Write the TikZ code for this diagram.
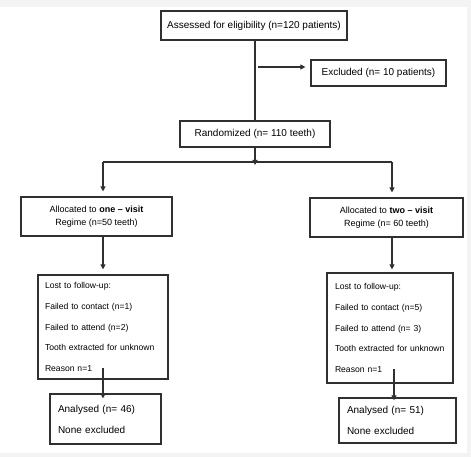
\documentclass[tikz,border=0pt]{standalone}
\usepackage{fontspec}
\setmainfont{Liberation Sans}
\usetikzlibrary{arrows.meta}
\definecolor{bggray}{HTML}{F3F3F3}
\definecolor{linegray}{HTML}{303030}
\begin{document}
\begin{tikzpicture}[x=1pt,y=-1pt,
  box/.style={draw=linegray, line width=1.2pt, inner sep=0pt, align=center, font=\fontsize{10}{12}\selectfont},
  allocbox/.style={box, font=\fontsize{9}{13}\selectfont},
  lostbox/.style={draw=linegray, line width=1.2pt, inner ysep=0pt, align=left, font=\fontsize{8.6}{20.6}\selectfont},
  anbox/.style={draw=linegray, line width=1.2pt, inner ysep=0pt, align=left, font=\fontsize{10}{21}\selectfont},
  conn/.style={draw=linegray, line width=1.1pt},
  arr/.style={conn, -{Triangle[length=5pt,width=5pt]}}
]
\useasboundingbox (0,0) rectangle (471,457);
\fill[bggray] (0,0) rectangle (471,457);
\fill[white] (0,7) rectangle (467,453);

\node[box, minimum width=186pt, minimum height=29pt] (assess) at (254,25.5) {Assessed for eligibility (n=120 patients)};
\node[box, minimum width=135pt, minimum height=26pt] (excl) at (378.5,73) {Excluded (n= 10 patients)};
\node[box, minimum width=150pt, minimum height=26pt] (rand) at (255,134) {Randomized (n= 110 teeth)};

\node[allocbox, minimum width=151pt, minimum height=39pt] (alloc1) at (96.5,216.5) {Allocated to \textbf{one -- visit}\\Regime (n=50 teeth)};
\node[allocbox, minimum width=153pt, minimum height=39pt] (alloc2) at (386.5,217.5) {Allocated to \textbf{two -- visit}\\Regime (n= 60 teeth)};

\node[lostbox, inner xsep=7pt, text width=116pt, minimum height=104pt] (lost1) at (103,327) {Lost to follow-up:\\Failed to contact (n=1)\\Failed to attend (n=2)\\Tooth extracted for unknown\\Reason n=1};
\node[lostbox, inner xsep=8pt, text width=110pt, minimum height=110pt] (lost2) at (390,328) {Lost to follow-up:\\Failed to contact (n=5)\\Failed to attend (n= 3)\\Tooth extracted for unknown\\Reason n=1};

\node[anbox, inner xsep=8pt, text width=95pt, minimum height=50pt] (an1) at (105.5,419) {Analysed (n= 46)\\None excluded};
\node[anbox, inner xsep=8pt, text width=101pt, minimum height=45pt] (an2) at (397.5,420.5) {Analysed (n= 51)\\None excluded};

% connectors
\coordinate (exstart) at (258,67);
\coordinate (split) at (255,162);
\coordinate (splitL) at (103,162);
\coordinate (splitR) at (392,162);
\coordinate (l1s) at (103,368);
\coordinate (l2s) at (394,369);

\draw[conn] (assess.south -| rand.north) -- (rand.north);
\draw[arr, shorten >=5pt] (exstart) -- (exstart -| excl.west);
\draw[arr, shorten >=-3pt] (rand.south) -- (split);
\draw[conn] (splitL) -- (splitR);
\draw[arr, shorten >=5pt] (splitL) -- (splitL |- alloc1.north);
\draw[arr, shorten >=5pt] (splitR) -- (splitR |- alloc2.north);
\draw[arr, shorten >=5pt] (alloc1.south -| splitL) -- (splitL |- lost1.north);
\draw[arr, shorten >=3pt] (alloc2.south -| splitR) -- (splitR |- lost2.north);
\draw[arr, shorten >=-5pt] (l1s) -- (l1s |- an1.north);
\draw[arr, shorten >=-3pt] (l2s) -- (l2s |- an2.north);
\end{tikzpicture}
\end{document}
